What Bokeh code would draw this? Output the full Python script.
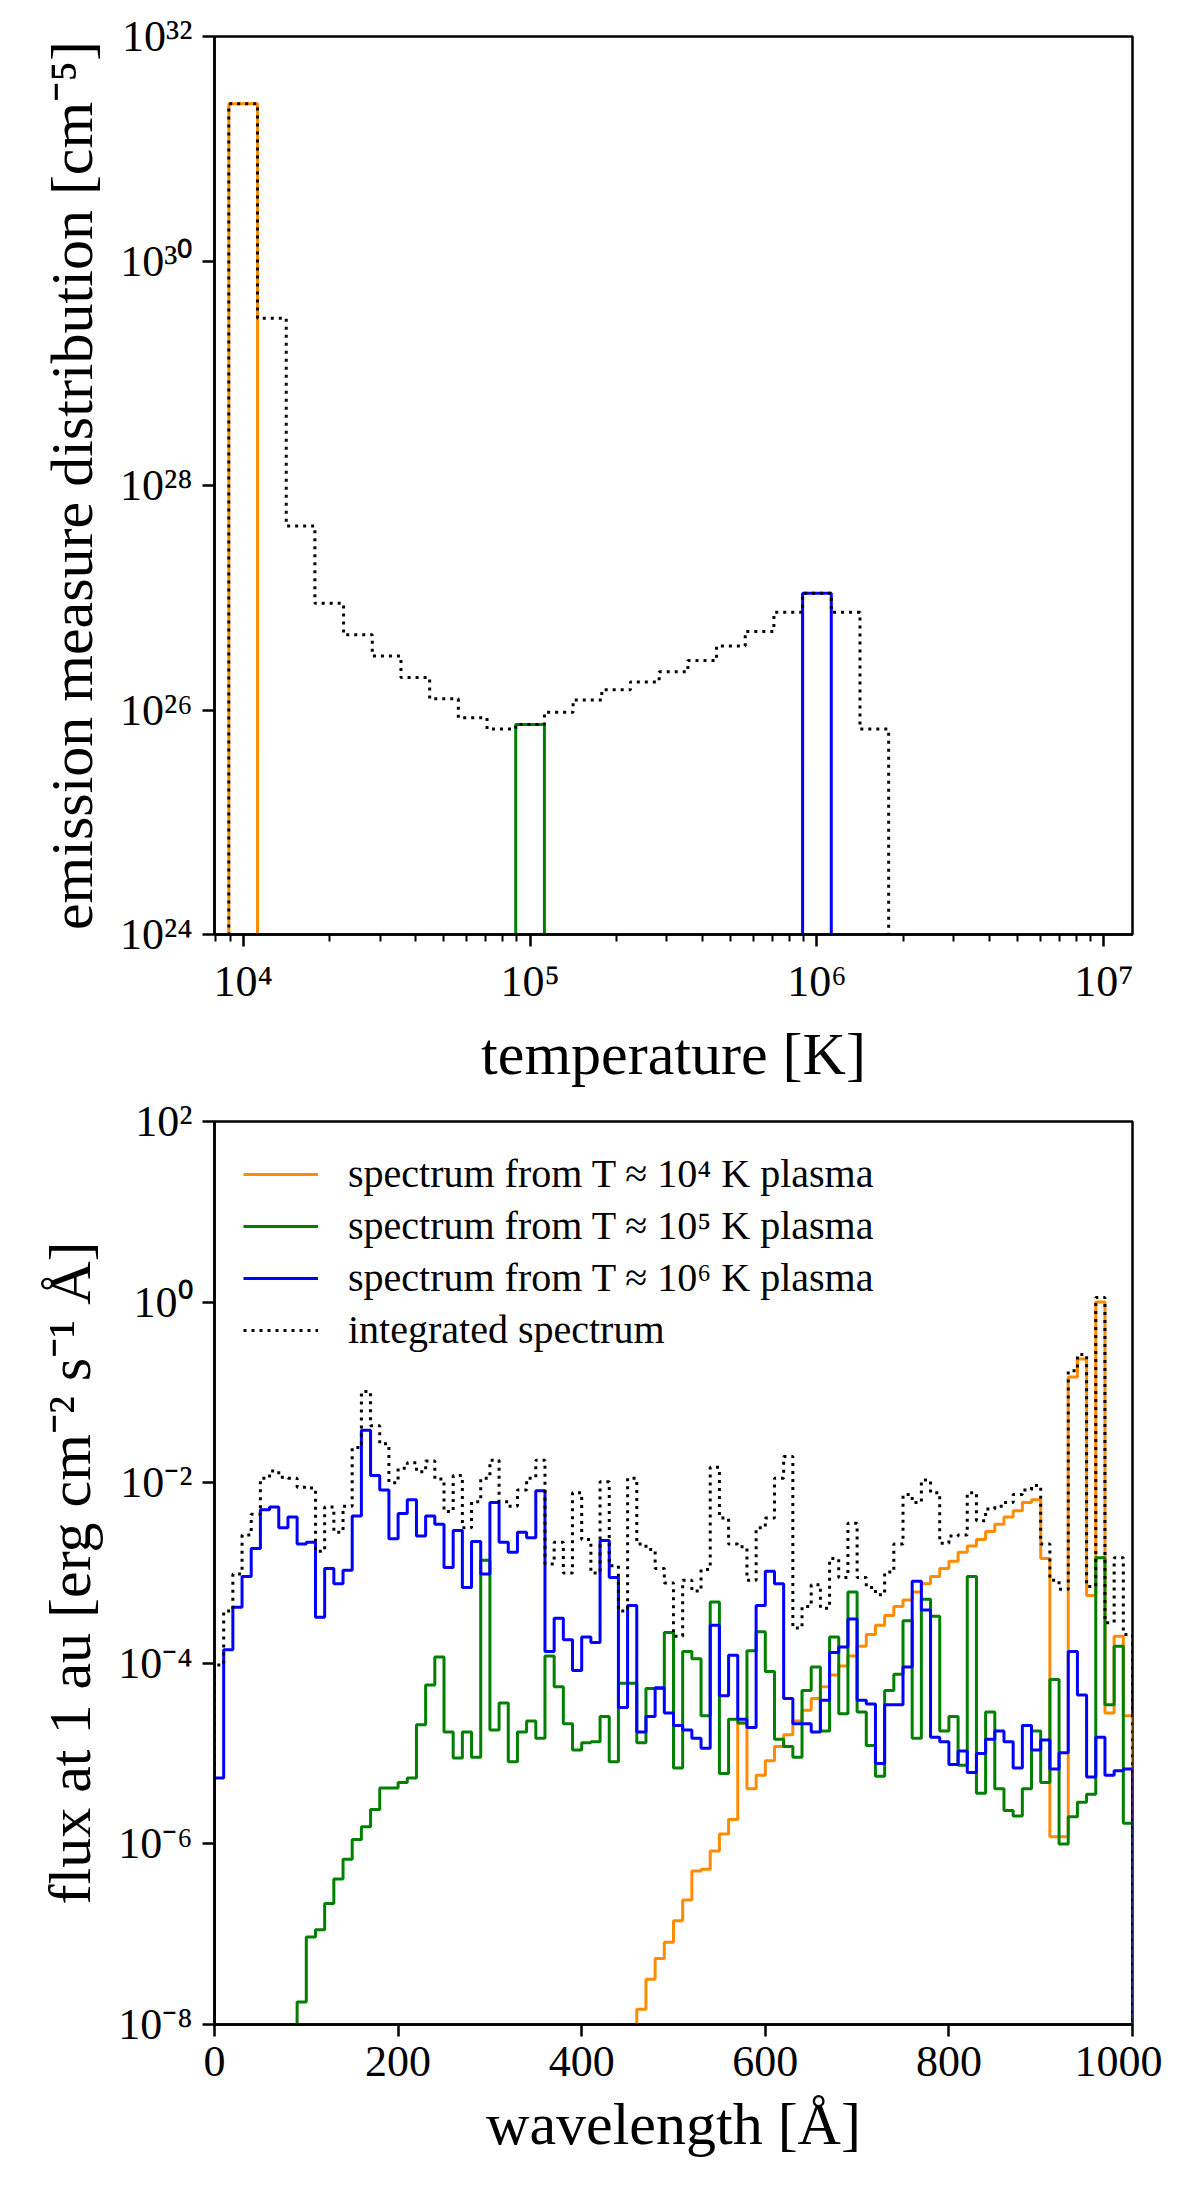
import numpy as np
from bokeh.plotting import figure
from bokeh.models import Range1d, FixedTicker, CustomJSTickFormatter
from bokeh.layouts import column
from bokeh.embed import file_html
from bokeh.resources import INLINE

FONT = "Liberation Serif"

# ---------------- top panel data: emission measure distribution ----------------
# log10(T) bin centres (0.1 dex wide bins) and log10(EM) of the integrated DEM
dem_logT = [4.0, 4.1, 4.2, 4.3, 4.4, 4.5, 4.6, 4.7, 4.8, 4.9, 5.0, 5.1,
            5.2, 5.3, 5.4, 5.5, 5.6, 5.7, 5.8, 5.9, 6.0, 6.1, 6.2]
dem_integrated = [31.40, 29.49, 27.64, 26.95, 26.67, 26.48, 26.29, 26.10,
                  25.93, 25.83, 25.87, 25.98, 26.09, 26.18, 26.25, 26.34,
                  26.44, 26.57, 26.70, 26.87, 27.04, 26.87, 25.83]
dem_bin_halfwidth = 0.05
# single-bin components (log10 T centre, log10 EM)
dem_T4 = [(4.0, 31.40)]
dem_T5 = [(5.0, 25.87)]
dem_T6 = [(6.0, 27.04)]

# ---------------- bottom panel data: spectra, 10 A bins 0..1000 A ----------------
wl_edges = list(range(0, 1001, 10))
flux_T6 = [-5.27, -3.85, -3.38, -3.04, -2.73, -2.30, -2.27, -2.50, -2.38, -2.68,
           -2.66, -3.49, -2.95, -3.12, -2.97, -2.37, -1.42, -1.92, -2.08, -2.62,
           -2.34, -2.19, -2.59, -2.37, -2.46, -2.94, -2.53, -3.16, -2.65, -3.01,
           -2.22, -2.66, -2.77, -2.55, -2.61, -2.09, -3.87, -3.50, -3.74, -4.08,
           -3.71, -3.77, -2.64, -3.05, -4.49, -3.36, -4.76, -4.59, -4.27, -4.55,
           -4.69, -4.74, -4.83, -4.94, -3.58, -4.36, -3.91, -4.62, -4.71, -3.36,
           -2.98, -3.12, -4.39, -4.67, -4.67, -4.76, -4.41, -3.88, -3.82, -3.51,
           -4.41, -4.45, -5.11, -4.46, -4.46, -4.04, -3.09, -3.41, -4.82, -4.87,
           -5.12, -4.97, -5.21, -5.00, -4.84, -4.75, -4.87, -5.16, -4.69, -4.96,
           -4.85, -5.17, -4.99, -3.87, -4.35, -5.26, -4.82, -5.24, -5.19, -5.17]
flux_T5 = [None, None, None, None, None, None, None, None, None, -7.75,
           -7.03, -6.95, -6.66, -6.39, -6.17, -5.95, -5.81, -5.62, -5.38, -5.38,
           -5.32, -5.27, -4.68, -4.24, -3.93, -4.76, -5.05, -4.76, -5.04, -2.86,
           -4.74, -4.44, -5.09, -4.76, -4.64, -4.83, -3.92, -4.26, -4.67, -4.96,
           -4.88, -4.87, -4.59, -5.09, -4.22, -4.22, -4.88, -4.28, -4.28, -3.66,
           -5.16, -3.87, -3.95, -4.58, -3.32, -5.22, -4.62, -4.66, -3.86, -3.65,
           -4.09, -4.84, -4.92, -5.04, -4.30, -4.04, -4.75, -3.71, -4.56, -3.21,
           -4.54, -4.91, -5.25, -4.30, -4.12, -3.53, -4.83, -3.29, -3.48, -4.75,
           -4.59, -5.13, -3.04, -5.44, -4.54, -5.39, -5.63, -5.69, -5.39, -4.75,
           -5.32, -4.18, -6.00, -5.70, -5.54, -5.45, -2.83, -4.46, -3.81, -5.77]
flux_T4 = [None] * 46 + [
           -7.83, -7.50, -7.27, -7.09,
           -6.85, -6.62, -6.30, -6.28, -6.08, -5.89, -5.73, -4.66, -5.39, -5.24,
           -5.08, -4.92, -4.79, -4.64, -4.52, -4.39, -4.26, -4.13, -4.03, -3.92,
           -3.81, -3.68, -3.58, -3.47, -3.37, -3.30, -3.21, -3.12, -3.04, -2.95,
           -2.87, -2.77, -2.70, -2.63, -2.54, -2.46, -2.38, -2.31, -2.22, -2.19,
           -2.84, -5.92, -5.92, -0.83, -0.63, -3.25, 0.00, -4.55, -3.70, -4.58]
flux_total = [-4.02, -3.42, -3.01, -2.58, -2.35, -1.95, -1.87, -1.94, -1.95, -2.05,
              -2.06, -2.76, -2.27, -2.55, -2.26, -1.61, -0.99, -1.37, -1.57, -2.00,
              -1.84, -1.78, -1.88, -1.76, -1.96, -2.32, -1.92, -2.50, -2.21, -1.95,
              -1.75, -2.21, -2.26, -2.08, -1.95, -1.75, -2.90, -2.66, -3.00, -2.11,
              -2.63, -3.00, -1.99, -2.92, -3.42, -1.95, -2.68, -2.74, -2.95, -3.11,
              -3.70, -3.08, -3.20, -2.96, -1.83, -2.39, -2.68, -2.71, -3.08, -2.50,
              -2.39, -1.95, -1.71, -3.61, -3.37, -3.13, -3.39, -2.84, -3.05, -2.45,
              -3.05, -3.16, -3.24, -2.99, -2.68, -2.13, -2.22, -1.97, -2.11, -2.67,
              -2.59, -2.58, -2.11, -2.42, -2.29, -2.26, -2.22, -2.13, -2.08, -2.03,
              -2.68, -3.08, -3.18, -0.76, -0.58, -3.15, 0.05, -3.55, -2.83, -3.68]

legend_labels = ["spectrum from T \u2248 10\u2074 K plasma",
                 "spectrum from T \u2248 10\u2075 K plasma",
                 "spectrum from T \u2248 10\u2076 K plasma",
                 "integrated spectrum"]
colors = ["#ff8c00", "#008000", "#0000ff", "black"]

LW = 3
DOT = "3 5"


def step_path(edges, logvals, floor):
    xs, ys = [edges[0]], [floor]
    for i, v in enumerate(logvals):
        y = floor if v is None else 10.0 ** v
        xs += [edges[i], edges[i + 1]]
        ys += [y, y]
    xs.append(edges[-1])
    ys.append(floor)
    return xs, ys


def bar_path(center_val, half, floor):
    c, v = center_val
    e = [10 ** (c - half), 10 ** (c + half)]
    return step_path(e, [v], floor)


pow_fmt = CustomJSTickFormatter(code="""
const sup = {"0":"\u2070","1":"\u00b9","2":"\u00b2","3":"\u00b3","4":"\u2074",
             "5":"\u2075","6":"\u2076","7":"\u2077","8":"\u2078","9":"\u2079","-":"\u207b"};
const e = Math.round(Math.log10(tick));
return "10" + String(e).split("").map(c => sup[c]).join("");
""")


def style(p):
    p.outline_line_color = "black"
    p.outline_line_width = 2.5
    p.outline_line_alpha = 1
    p.xgrid.grid_line_color = None
    p.ygrid.grid_line_color = None
    p.background_fill_color = "white"
    p.border_fill_color = "white"
    for ax in (p.xaxis[0], p.yaxis[0]):
        ax.axis_line_width = 2.5
        ax.axis_line_color = "black"
        ax.major_tick_line_width = 2.5
        ax.minor_tick_line_width = 2
        ax.major_tick_line_color = "black"
        ax.minor_tick_line_color = "black"
        ax.major_tick_in = 0
        ax.major_tick_out = 12
        ax.minor_tick_in = 0
        ax.minor_tick_out = 7
        ax.major_label_text_font = FONT
        ax.major_label_text_font_size = "44px"
        ax.major_label_text_color = "black"
        ax.axis_label_text_font = FONT
        ax.axis_label_text_font_size = "60px"
        ax.axis_label_text_font_style = "normal"
        ax.axis_label_text_color = "black"
        ax.major_label_standoff = 10
        ax.axis_label_standoff = 12


# ---------------- top figure ----------------
p1 = figure(width=1162, height=1089, x_axis_type="log", y_axis_type="log",
            x_range=Range1d(10 ** 3.9, 10 ** 7.1), y_range=Range1d(1e24, 1e32),
            output_backend="svg", toolbar_location=None,
            min_border_left=214, min_border_right=30, min_border_top=36,
            min_border_bottom=148)
style(p1)
p1.xaxis.axis_label = "temperature [K]"
p1.yaxis.axis_label = "emission measure distribution [cm\u207b\u2075]"
minor = [m * 10 ** n for n in range(3, 8) for m in range(2, 10)
         if 10 ** 3.9 <= m * 10 ** n <= 10 ** 7.1]
p1.xaxis.ticker = FixedTicker(ticks=[1e4, 1e5, 1e6, 1e7], minor_ticks=minor)
p1.yaxis.ticker = FixedTicker(ticks=[1e24, 1e26, 1e28, 1e30, 1e32], minor_ticks=[])
p1.xaxis.formatter = pow_fmt
p1.yaxis.formatter = pow_fmt

floor1 = 1e20
for comp, col in zip([dem_T4, dem_T5, dem_T6], colors[:3]):
    xs, ys = bar_path(comp[0], dem_bin_halfwidth, floor1)
    p1.line(xs, ys, line_color=col, line_width=LW)
dem_edges = [10 ** (c - dem_bin_halfwidth) for c in dem_logT] + \
            [10 ** (dem_logT[-1] + dem_bin_halfwidth)]
xs, ys = step_path(dem_edges, dem_integrated, floor1)
p1.line(xs, ys, line_color="black", line_width=LW, line_dash=DOT)

# ---------------- bottom figure ----------------
p2 = figure(width=1162, height=1083, y_axis_type="log",
            x_range=Range1d(0, 1000), y_range=Range1d(1e-8, 1e2),
            output_backend="svg", toolbar_location=None,
            min_border_left=214, min_border_right=30, min_border_top=32,
            min_border_bottom=148)
style(p2)
p2.xaxis.axis_label = "wavelength [\u00c5]"
p2.yaxis.axis_label = "flux at 1 au [erg cm\u207b\u00b2 s\u207b\u00b9 \u00c5]"
p2.xaxis.ticker = FixedTicker(ticks=[0, 200, 400, 600, 800, 1000], minor_ticks=[])
p2.yaxis.ticker = FixedTicker(ticks=[1e-8, 1e-6, 1e-4, 1e-2, 1e0, 1e2], minor_ticks=[])
p2.yaxis.formatter = pow_fmt

floor2 = 1e-14
for series, col, lab in zip([flux_T4, flux_T5, flux_T6], colors[:3], legend_labels[:3]):
    xs, ys = step_path(wl_edges, series, floor2)
    p2.line(xs, ys, line_color=col, line_width=LW, legend_label=lab)
xs, ys = step_path(wl_edges, flux_total, floor2)
p2.line(xs, ys, line_color="black", line_width=LW, line_dash=DOT,
        legend_label=legend_labels[3])

lg = p2.legend[0]
lg.location = "top_left"
lg.border_line_alpha = 0
lg.background_fill_alpha = 0
lg.label_text_font = FONT
lg.label_text_font_size = "40px"
lg.label_text_color = "black"
lg.glyph_width = 75
lg.glyph_height = 40
lg.label_standoff = 30
lg.spacing = 5
lg.padding = 3
lg.margin = 26

layout = column(p1, p2, spacing=0)
open("out.html", "w", encoding="utf-8").write(file_html(layout, INLINE))
